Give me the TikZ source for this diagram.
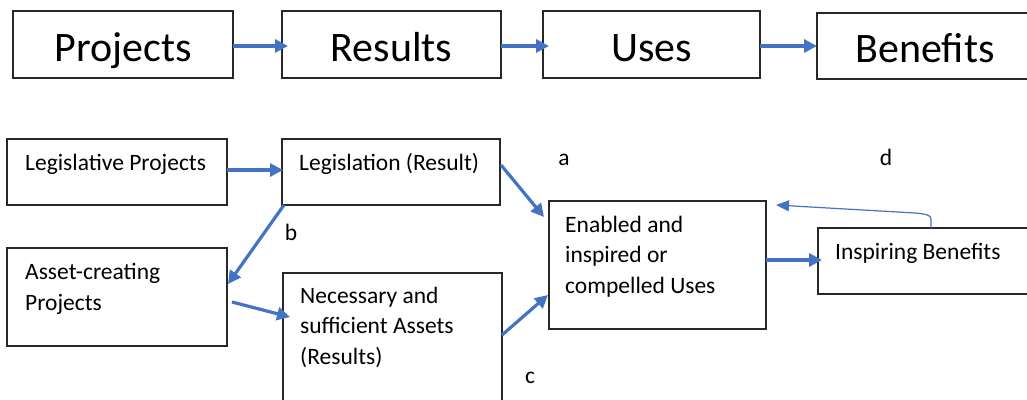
\documentclass[tikz,border=0pt]{standalone}
\usepackage{fontspec}
\setmainfont{Carlito}
\usetikzlibrary{arrows.meta}
\definecolor{arrblue}{RGB}{68,114,196}
\definecolor{boxgray}{RGB}{40,40,40}
\tikzset{
  bigbox/.style={draw=boxgray, line width=1.3pt, inner sep=0pt},
  smallbox/.style={draw=boxgray, line width=1.3pt},
  bigtxt/.style={font=\fontsize{42}{48}\selectfont, inner sep=0pt, anchor=base},
  smalltxt/.style={font=\fontsize{23.5}{30.5}\selectfont, inner sep=0pt, anchor=base west, align=left},
  lbl/.style={font=\fontsize{23.5}{28}\selectfont, inner sep=0pt, anchor=base},
  thick arrow/.style={draw=arrblue, line width=3.2pt, -{Triangle[length=13pt,width=13pt]}},
  thin arrow/.style={draw=arrblue, line width=1.2pt, -{Triangle[length=13pt,width=11pt]}},
}
\begin{document}
\begin{tikzpicture}[x=1pt,y=-1pt]
\useasboundingbox (0,0) rectangle (1027,399);
\clip (0,0) rectangle (1027,399);
% top row
\draw[bigbox] (13,11) rectangle (233,78);
\draw[bigbox] (282,11) rectangle (501,78);
\draw[bigbox] (543,11) rectangle (760,78);
\draw[bigbox] (817,13) rectangle (1040,79);
\node[bigtxt] (tp) at (123,61) {Projects};
\node[bigtxt] (tr) at (391.5,61) {Results};
\node[bigtxt] (tu) at (651.5,61) {Uses};
\node[bigtxt] (tb) at (925,62) {Benefits};
\coordinate (p1) at (233,46); \coordinate (p2) at (288,46);
\coordinate (r1) at (501,46); \coordinate (r2) at (549,46);
\coordinate (u1) at (760,46); \coordinate (u2) at (817,46);
\draw[thick arrow] (p1) -- (p2);
\draw[thick arrow] (r1) -- (r2);
\draw[thick arrow] (u1) -- (u2);
% bottom boxes
\draw[smallbox] (7,139) rectangle (227,205);
\draw[smallbox] (282,139) rectangle (500,205);
\draw[smallbox] (7,248) rectangle (227,346);
\draw[smallbox] (283,273) rectangle (502,410);
\draw[smallbox] (549,201) rectangle (766,329);
\draw[smallbox] (818,228) rectangle (1040,294);
\node[smalltxt] (lp) at (25,170) {Legislative Projects};
\node[smalltxt] (lr) at (299,170) {Legislation (Result)};
\node[smalltxt] (ap) at (25,310) {Asset-creating\\Projects};
\node[smalltxt] (ns) at (300,364) {Necessary and\\sufficient Assets\\(Results)};
\node[smalltxt] (eu) at (565,293) {Enabled and\\inspired or\\compelled Uses};
\node[smalltxt] (ib) at (835,259) {Inspiring Benefits};
% labels
\node[lbl] (la) at (564,165) {a};
\node[lbl] (ld) at (886,165) {d};
\node[lbl] (lb) at (291,240) {b};
\node[lbl] (lc) at (530,383) {c};
% arrows
\coordinate (a1s) at (227,170); \coordinate (a1e) at (283,170);
\draw[thick arrow] (a1s) -- (a1e);
\coordinate (a2s) at (284,205); \coordinate (a2e) at (228,284);
\draw[thick arrow] (a2s) -- (a2e);
\coordinate (a3s) at (232,302); \coordinate (a3e) at (290,317);
\draw[thick arrow] (a3s) -- (a3e);
\coordinate (a4s) at (501,165); \coordinate (a4e) at (544,217);
\draw[thick arrow] (a4s) -- (a4e);
\coordinate (a5s) at (502,335); \coordinate (a5e) at (548,295);
\draw[thick arrow] (a5s) -- (a5e);
\coordinate (a6s) at (766,260); \coordinate (a6e) at (822,260);
\draw[thick arrow] (a6s) -- (a6e);
\coordinate (a7s) at (931,228); \coordinate (a7e) at (776,205);
\draw[thin arrow] (a7s) -- (931,219) .. controls (931,215) and (926,214) .. (915,213) -- (a7e);
\end{tikzpicture}
\end{document}
